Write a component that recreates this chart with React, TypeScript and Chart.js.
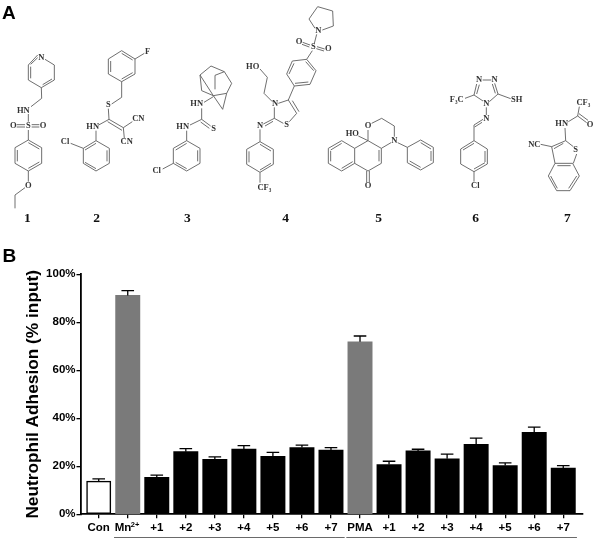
import React, { useEffect, useRef } from "react";
import Chart from "chart.js/auto";

const categories = ["Con", "Mn", "+1", "+2", "+3", "+4", "+5", "+6", "+7", "PMA", "+1", "+2", "+3", "+4", "+5", "+6", "+7"];
const adhesionMeans = [13.8, 91.2, 15.4, 26.1, 22.9, 27.2, 24.2, 27.8, 26.8, 71.9, 20.7, 26.4, 23.1, 29.2, 20.3, 34.2, 19.3];
const adhesionUpper = [14.8, 93.2, 16.3, 27.4, 23.9, 28.6, 25.8, 28.8, 27.8, 74.3, 22.1, 27.1, 25.1, 31.7, 21.4, 36.3, 20.3];
const barFills = ["#ffffff", "#7a7a7a", "#000", "#000", "#000", "#000", "#000", "#000", "#000", "#7a7a7a", "#000", "#000", "#000", "#000", "#000", "#000", "#000"];
const yTicks = [0, 20, 40, 60, 80, 100];
const compoundNumbers = ["1", "2", "3", "4", "5", "6", "7"];

type Pt = number[];
const ring = (...p: Pt[]) => [...p, p[0]];

// Structures of panel A, in 3x image units: [x offset, y offset, bond polylines, double bonds, labels]
const molecules: { o: Pt; lines: Pt[][]; doubles: number[][]; labels: [string, number, number][] }[] = [
  {
    o: [0, 0],
    lines: [
      [[113, 165], [85, 195], [85, 240], [124, 263], [163, 240], [163, 195], [135, 178]],
      [[124, 263], [125, 295], [93, 320]],
      [[85, 342], [85, 365]],
      [[85, 390], [85, 420]],
      ring([85, 420], [125, 443], [125, 490], [85, 513], [45, 490], [45, 443]),
      [[85, 513], [85, 545]],
      [[75, 563], [45, 585], [45, 625]],
    ],
    doubles: [
      [92, 200, 92, 235], [128, 254, 156, 237], [92, 193, 113, 173],
      [52, 450, 52, 484], [85, 505, 118, 486], [85, 428, 118, 447],
      [50, 374, 75, 374], [50, 381, 75, 381], [95, 374, 118, 374], [95, 381, 118, 381],
    ],
    labels: [["N", 124, 172], ["HN", 70, 331], ["S", 85, 377], ["O", 40, 377], ["O", 129, 377], ["O", 85, 557]],
  },
  {
    o: [0, 0],
    lines: [
      ring([365, 152], [405, 177], [405, 222], [365, 245], [325, 222], [325, 177]),
      [[405, 177], [433, 160]],
      [[365, 245], [365, 292], [335, 312]],
      [[325, 326], [327, 358], [296, 375]],
      [[327, 358], [370, 383], [397, 365]],
      [[370, 383], [373, 415]],
      [[288, 392], [288, 422]],
      ring([288, 422], [328, 445], [328, 490], [288, 513], [250, 490], [250, 445]),
      [[250, 445], [212, 430]],
    ],
    doubles: [
      [332, 183, 332, 216], [365, 160, 398, 180], [365, 237, 398, 218],
      [323, 365, 366, 391],
      [321, 451, 321, 484], [288, 506, 255, 487], [288, 430, 255, 450],
    ],
    labels: [["F", 443, 155], ["S", 325, 315], ["HN", 278, 380], ["CN", 415, 357], ["CN", 380, 425], ["Cl", 195, 425]],
  },
  {
    o: [0, 0],
    lines: [
      [[600, 225], [633, 198], [673, 215], [695, 250], [680, 280], [668, 328], [640, 287], [600, 225]],
      [[600, 225], [605, 272], [640, 287]],
      [[673, 215], [645, 226], [645, 268]],
      [[640, 287], [680, 280]],
      [[640, 290], [612, 307]],
      [[605, 325], [605, 358], [570, 375]],
      [[605, 358], [632, 378]],
      [[560, 392], [560, 422]],
      ring([560, 422], [600, 445], [600, 490], [560, 513], [520, 490], [520, 445]),
      [[520, 490], [488, 507]],
    ],
    doubles: [[602, 366, 628, 385], [593, 451, 593, 484], [560, 506, 527, 487], [560, 430, 527, 450]],
    labels: [["HN", 590, 312], ["HN", 548, 380], ["S", 641, 387], ["Cl", 470, 512]],
  },
  {
    o: [705, 0],
    lines: [
      [[240, 85], [222, 57], [248, 20], [293, 33], [295, 78], [262, 90]],
      [[245, 103], [238, 130]],
      [[232, 152], [215, 178]],
      ring([215, 178], [243, 212], [225, 253], [178, 258], [155, 222], [172, 183]),
      [[178, 258], [160, 300]],
      [[130, 310], [160, 300], [185, 340], [163, 365]],
      [[118, 322], [118, 355], [145, 370]],
      [[112, 305], [87, 280], [97, 232], [75, 207]],
      [[118, 355], [85, 372]],
      [[75, 388], [75, 425]],
      ring([75, 425], [115, 448], [115, 493], [75, 517], [35, 493], [35, 448]),
      [[75, 517], [75, 548]],
    ],
    doubles: [
      [203, 127, 225, 135], [201, 133, 223, 141], [246, 140, 269, 147], [244, 146, 267, 153],
      [162, 222, 177, 190], [180, 250, 220, 246], [236, 212, 212, 185],
      [172, 302, 192, 335], [90, 378, 114, 364],
      [42, 454, 42, 487], [75, 510, 108, 490], [75, 433, 108, 453],
    ],
    labels: [["N", 250, 93], ["S", 235, 140], ["O", 192, 124], ["O", 280, 147], ["HO", 53, 199], ["N", 120, 312], ["S", 155, 375], ["N", 75, 377], ["CF₃", 88, 563]],
  },
  {
    o: [900, 0],
    lines: [
      ring([362, 420], [400, 442], [400, 488], [362, 510], [322, 488], [322, 442]),
      [[293, 428], [322, 442]],
      [[175, 408], [204, 422], [204, 390]],
      [[215, 370], [245, 355], [283, 378], [283, 410]],
      [[273, 428], [244, 445]],
      [[204, 422], [244, 445], [244, 490], [204, 513], [164, 490], [164, 445], [204, 422]],
      [[164, 445], [125, 422], [85, 445], [85, 490], [125, 513], [164, 490]],
    ],
    doubles: [
      [362, 428, 393, 447], [393, 453, 393, 483], [362, 502, 329, 483],
      [237, 450, 237, 484],
      [125, 430, 92, 450], [92, 453, 92, 484], [125, 505, 158, 485],
      [200, 513, 200, 546], [208, 513, 208, 546],
    ],
    labels: [["O", 204, 377], ["HO", 157, 400], ["N", 283, 422], ["O", 204, 558]],
  },
  {
    o: [900, 0],
    lines: [
      [[548, 240], [574, 240]],
      [[584, 250], [594, 282], [568, 305]],
      [[530, 252], [522, 285], [549, 303]],
      [[522, 285], [495, 295]],
      [[594, 282], [632, 296]],
      [[559, 322], [559, 345]],
      [[549, 358], [522, 375], [522, 422]],
      ring([522, 422], [562, 447], [562, 492], [522, 515], [482, 492], [482, 447]),
      [[522, 515], [522, 545]],
    ],
    doubles: [
      [577, 252, 586, 280], [538, 254, 530, 282], [546, 367, 524, 381],
      [555, 453, 555, 486], [522, 507, 555, 488], [522, 430, 489, 450],
    ],
    labels: [["N", 537, 240], ["N", 584, 238], ["N", 559, 312], ["N", 559, 356], ["F₃C", 470, 298], ["SH", 650, 298], ["Cl", 526, 558]],
  },
  {
    o: [900, 0],
    lines: [
      [[838, 320], [833, 348], [860, 368]],
      [[833, 348], [805, 365]],
      [[795, 384], [797, 422], [755, 440], [722, 433]],
      [[797, 422], [820, 440]],
      [[830, 462], [820, 490]],
      [[755, 440], [765, 490]],
      ring([765, 490], [818, 490], [838, 528], [810, 572], [770, 572], [745, 528]),
    ],
    doubles: [
      [837, 341, 864, 361], [790, 430, 762, 446],
      [772, 497, 812, 497], [830, 528, 806, 565], [772, 565, 752, 528],
    ],
    labels: [["CF₃", 850, 308], ["O", 870, 375], ["HN", 785, 372], ["NC", 703, 433], ["S", 827, 450]],
  },
];
const numberPositions: Pt[] = [[82, 656], [290, 656], [562, 656], [857, 656], [1136, 656], [1427, 656], [1702, 656]];

const artPlugin = {
  id: "art",
  afterDraw(chart: any) {
    const c = chart.ctx as CanvasRenderingContext2D;
    c.save();
    c.fillStyle = "#000";
    c.font = "bold 19px 'Liberation Sans'";
    c.textAlign = "left";
    c.textBaseline = "alphabetic";
    c.fillText("A", 2, 18.5);
    c.fillText("B", 2.5, 262);
    c.textAlign = "center";
    c.textBaseline = "middle";
    for (const m of molecules) {
      const X = (x: number) => (x + m.o[0]) / 3;
      const Y = (y: number) => (y + m.o[1]) / 3;
      c.strokeStyle = "#555";
      c.lineWidth = 0.85;
      for (const l of m.lines) {
        c.beginPath();
        l.forEach((p, i) => (i ? c.lineTo(X(p[0]), Y(p[1])) : c.moveTo(X(p[0]), Y(p[1]))));
        c.stroke();
      }
      for (const d of m.doubles) {
        c.beginPath();
        c.moveTo(X(d[0]), Y(d[1]));
        c.lineTo(X(d[2]), Y(d[3]));
        c.stroke();
      }
      c.fillStyle = "#333";
      c.font = "bold 8.5px 'Liberation Serif'";
      for (const [t, x, y] of m.labels) c.fillText(t, X(x), Y(y));
    }
    c.fillStyle = "#111";
    c.font = "bold 13.5px 'Liberation Serif'";
    compoundNumbers.forEach((t, i) => c.fillText(t, numberPositions[i][0] / 3, numberPositions[i][1] / 3));

    const xs = chart.scales.x;
    // superscript charge of the Mn tick label
    c.fillStyle = "#000";
    c.font = "bold 7.5px 'Liberation Sans'";
    c.textAlign = "left";
    c.fillText("2+", xs.getPixelForValue(1) + 3, 524.5);

    // group underlines
    c.strokeStyle = "#444";
    c.lineWidth = 0.8;
    for (const [a, b] of [[1, 8], [9, 16]]) {
      c.beginPath();
      c.moveTo(xs.getPixelForValue(a) - 13.7, 537.5);
      c.lineTo(xs.getPixelForValue(b) + 13.7, 537.5);
      c.stroke();
    }
    c.restore();
  },
  afterDatasetsDraw(chart: any) {
    const c = chart.ctx as CanvasRenderingContext2D;
    const xs = chart.scales.x;
    const ys = chart.scales.y;
    c.save();
    c.strokeStyle = "#000";
    c.lineWidth = 1.3;
    adhesionUpper.forEach((u, i) => {
      const x = xs.getPixelForValue(i);
      const top = ys.getPixelForValue(u);
      c.beginPath();
      c.moveTo(x, ys.getPixelForValue(adhesionMeans[i]));
      c.lineTo(x, top);
      c.moveTo(x - 6.3, top);
      c.lineTo(x + 6.3, top);
      c.stroke();
    });
    c.restore();
  },
};

export default function App() {
  const ref = useRef<HTMLCanvasElement>(null);
  useEffect(() => {
    const chart = new Chart(ref.current!, {
      type: "bar",
      data: {
        datasets: [
          {
            data: adhesionMeans.map((y, x) => ({ x, y })),
            backgroundColor: barFills,
            borderColor: "#000",
            borderWidth: barFills.map((_, i) => (i === 0 ? 1.5 : 0)),
            borderSkipped: false,
            barThickness: 24.3,
          },
        ],
      },
      options: {
        animation: false,
        responsive: false,
        layout: { padding: { top: 274.3, right: 17.3, left: 0, bottom: 0 } },
        plugins: { legend: { display: false }, tooltip: { enabled: false } },
        scales: {
          x: {
            type: "linear",
            offset: false,
            min: -0.61,
            max: 16.67,
            afterFit: (s: any) => { s.height = 28.7; },
            afterBuildTicks: (s: any) => { s.ticks = categories.map((_, i) => ({ value: i })); },
            grid: { offset: false, drawOnChartArea: false, drawTicks: true, tickLength: 4, color: "#000", lineWidth: 1.3 },
            border: { color: "#000", width: 1.8 },
            ticks: {
              autoSkip: false,
              maxRotation: 0,
              padding: 2.5,
              color: "#000",
              font: { family: "'Liberation Sans'", weight: "bold", size: 11.5 },
              callback: (v: any) => (v === 1 ? "Mn   " : categories[v]),
            },
          },
          y: {
            min: 0,
            max: 100,
            afterFit: (s: any) => { s.width = 81; },
            afterBuildTicks: (s: any) => { s.ticks = yTicks.map((value) => ({ value })); },
            grid: { drawOnChartArea: false, drawTicks: true, tickLength: 4.5, color: "#000", lineWidth: 1.3 },
            border: { color: "#000", width: 1.8 },
            title: {
              display: true,
              text: "Neutrophil Adhesion (% input)",
              color: "#000",
              padding: { top: 23, bottom: 0 },
              font: { family: "'Liberation Sans'", weight: "bold", size: 17.3 },
            },
            ticks: {
              padding: 1,
              color: "#000",
              font: { family: "'Liberation Sans'", weight: "bold", size: 11.5 },
              callback: (v: any) => v + "%",
            },
          },
        },
      },
      plugins: [artPlugin],
    } as any);
    return () => chart.destroy();
  }, []);
  return (
    <div style={{ position: "fixed", left: 0, top: 0, width: 600, height: 543, background: "#fff" }}>
      <canvas ref={ref} width={600} height={543} style={{ display: "block" }} />
    </div>
  );
}
